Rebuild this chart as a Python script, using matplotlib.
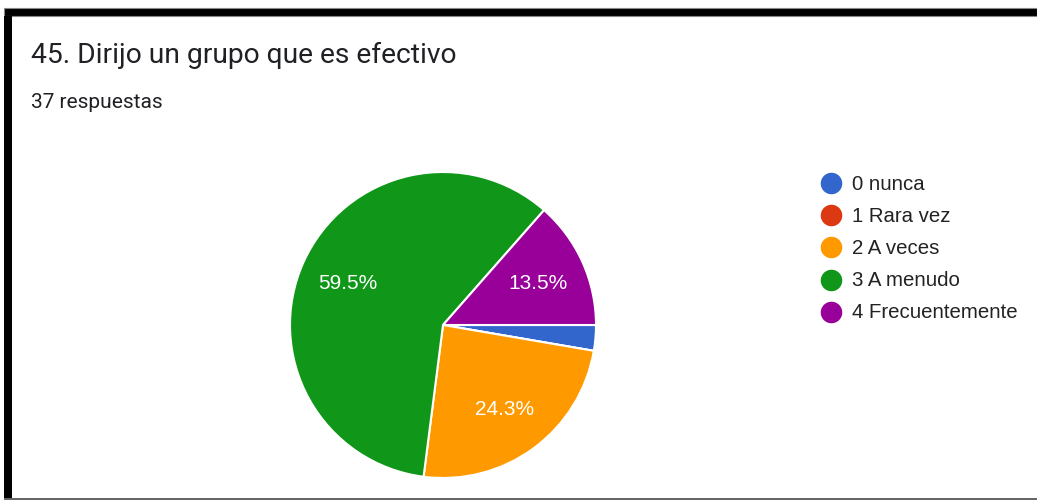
import matplotlib.pyplot as plt
from matplotlib.lines import Line2D
from matplotlib.patches import Rectangle

# Survey answers for question 45 (37 responses)
labels = ["0 nunca", "1 Rara vez", "2 A veces", "3 A menudo", "4 Frecuentemente"]
counts = [1, 0, 9, 22, 5]
colours = ["#3366cc", "#dc3912", "#ff9900", "#109618", "#990099"]
title = "45. Dirijo un grupo que es efectivo"
subtitle = "37 respuestas"

W, H = 1037, 502
fig = plt.figure(figsize=(W / 100, H / 100), dpi=100)
fig.patch.set_facecolor("white")


def px(x, y):
    # pixel position (from top-left) to figure fraction
    return x / W, 1 - y / H


# frame around the card
fig.add_artist(Rectangle(px(4, 17), (W - 4) / W, 8 / H, transform=fig.transFigure,
                         facecolor="black", edgecolor="#888888", linewidth=0.8))
fig.add_artist(Rectangle(px(4, 500), 8 / W, 483 / H, transform=fig.transFigure,
                         facecolor="black", edgecolor="none"))
fig.add_artist(Rectangle(px(4, 501), (W - 4) / W, 2 / H, transform=fig.transFigure,
                         facecolor="#666666", edgecolor="none"))

# title and response count
fig.text(*px(31, 55), title, fontsize=20.3, family="Roboto", color="#202124", va="center")
fig.text(*px(31, 103), subtitle, fontsize=15, family="Roboto", color="#202124", va="center")

# pie, centre (443, 326) radius 153 px
cx, cy, r = 443, 326, 153
ax = fig.add_axes([(cx - r) / W, (H - cy - r) / H, 2 * r / W, 2 * r / H])


def pct(p):
    return f"{p:.1f}%" if p > 5 else ""


wedges, texts, autotexts = ax.pie(
    counts, colors=colours, startangle=0, counterclock=False,
    autopct=pct, pctdistance=0.68,
    wedgeprops=dict(edgecolor="white", linewidth=1.5),
    textprops=dict(color="white", fontsize=15, family="Liberation Sans"))
ax.set_xlim(-1.0, 1.0)
ax.set_ylim(-1.0, 1.0)
ax.set_aspect("equal")
ax.axis("off")

# legend on the right
for i, (lab, col) in enumerate(zip(labels, colours)):
    y = 184 + i * 32.2
    fig.add_artist(Line2D([831 / W], [1 - y / H], marker="o", markersize=14.5,
                          color=col, linestyle="none", transform=fig.transFigure))
    fig.text(852 / W, 1 - y / H, lab, fontsize=14.7, family="Liberation Sans",
             color="#222222", va="center")

fig.savefig("out.png", dpi=100)
